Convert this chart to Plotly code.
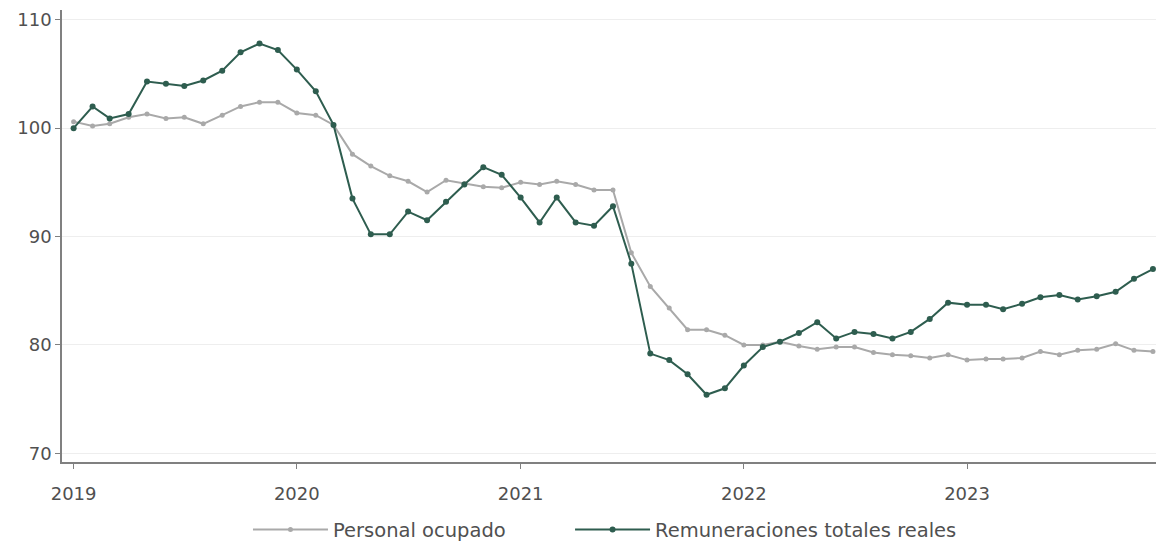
import pandas as pd
import plotly.graph_objects as go

dates = pd.date_range("2019-01-01", "2023-11-01", freq="MS")

personal_ocupado = [
    100.6, 100.2, 100.4, 101.0, 101.3, 100.9, 101.0, 100.4, 101.2, 102.0, 102.4, 102.4,
    101.4, 101.2, 100.3, 97.6, 96.5, 95.6, 95.1, 94.1, 95.2, 94.9, 94.6, 94.5,
    95.0, 94.8, 95.1, 94.8, 94.3, 94.3, 88.5, 85.4, 83.4, 81.4, 81.4, 80.9,
    80.0, 80.0, 80.3, 79.9, 79.6, 79.8, 79.8, 79.3, 79.1, 79.0, 78.8, 79.1,
    78.6, 78.7, 78.7, 78.8, 79.4, 79.1, 79.5, 79.6, 80.1, 79.5, 79.4,
]

remuneraciones = [
    100.0, 102.0, 100.9, 101.3, 104.3, 104.1, 103.9, 104.4, 105.3, 107.0, 107.8, 107.2,
    105.4, 103.4, 100.3, 93.5, 90.2, 90.2, 92.3, 91.5, 93.2, 94.8, 96.4, 95.7,
    93.6, 91.3, 93.6, 91.3, 91.0, 92.8, 87.5, 79.2, 78.6, 77.3, 75.4, 76.0,
    78.1, 79.8, 80.3, 81.1, 82.1, 80.6, 81.2, 81.0, 80.6, 81.2, 82.4, 83.9,
    83.7, 83.7, 83.3, 83.8, 84.4, 84.6, 84.2, 84.5, 84.9, 86.1, 87.0,
]

tick_vals = ["2019-01-01", "2020-01-01", "2021-01-01", "2022-01-01", "2023-01-01"]
tick_text = ["2019", "2020", "2021", "2022", "2023"]
y_ticks = [70, 80, 90, 100, 110]

GRAY = "#a9a9a9"
GREEN = "#2e5d4f"
FONT = "DejaVu Sans"
TXT = "#505050"

fig = go.Figure()
fig.add_trace(go.Scatter(
    x=dates, y=personal_ocupado, name="Personal ocupado",
    mode="lines+markers",
    line=dict(color=GRAY, width=2),
    marker=dict(color=GRAY, size=5),
    legend="legend",
))
fig.add_trace(go.Scatter(
    x=dates, y=remuneraciones, name="Remuneraciones totales reales",
    mode="lines+markers",
    line=dict(color=GREEN, width=2),
    marker=dict(color=GREEN, size=6),
    legend="legend2",
))

legend_common = dict(orientation="h", xanchor="left", y=-0.150, yanchor="middle",
                     font=dict(family=FONT, size=19.5, color=TXT),
                     itemwidth=75, bgcolor="rgba(0,0,0,0)")

fig.update_layout(
    width=1156, height=544,
    margin=dict(l=62, r=0, t=10, b=82, autoexpand=False),
    paper_bgcolor="white", plot_bgcolor="white",
    font=dict(family=FONT, size=18, color=TXT),
    showlegend=True,
    legend=dict(x=0.170, **legend_common),
    legend2=dict(x=0.4644, **legend_common),
    xaxis=dict(
        range=["2018-12-13", "2023-11-06"],
        tickvals=tick_vals, ticktext=tick_text,
        showgrid=False, showline=True, linecolor="#808080", linewidth=1.5,
        ticks="outside", ticklen=5, tickcolor="#808080",
        ticklabelstandoff=10, automargin=False,
        tickfont=dict(family=FONT, size=18, color=TXT),
        zeroline=False,
    ),
    yaxis=dict(
        range=[69.2, 110.9],
        tickvals=y_ticks, automargin=False,
        showgrid=True, gridcolor="#eeeeee", gridwidth=1,
        showline=True, linecolor="#808080", linewidth=1.5,
        ticks="outside", ticklen=5, tickcolor="#808080",
        tickfont=dict(family=FONT, size=18, color=TXT),
        zeroline=False,
    ),
)

fig.write_html(
    "out.html",
    config={"displayModeBar": False},
    post_script="document.body.style.margin='0px';document.body.style.overflow='hidden';",
)
